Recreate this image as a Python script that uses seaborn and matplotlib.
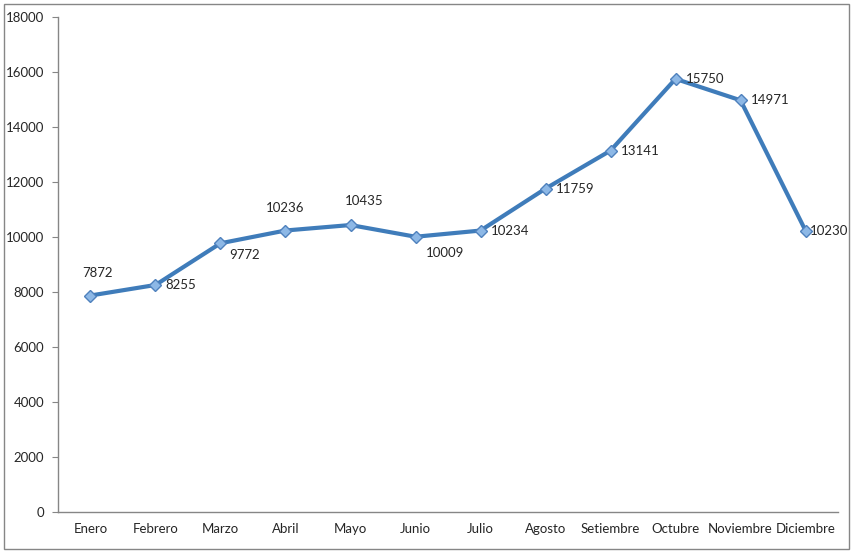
import numpy as np
import matplotlib as mpl
mpl.use("Agg")
import matplotlib.pyplot as plt
import pandas as pd
import seaborn as sns
from matplotlib.patches import Rectangle

sns.set_style("white")
plt.rcParams['font.family'] = ['Lato', 'DejaVu Sans']

meses = ['Enero', 'Febrero', 'Marzo', 'Abril', 'Mayo', 'Junio', 'Julio',
         'Agosto', 'Setiembre', 'Octubre', 'Noviembre', 'Diciembre']
valores = [7872, 8255, 9772, 10236, 10435, 10009, 10234,
           11759, 13141, 15750, 14971, 10230]

dat = pd.DataFrame({'mes': meses, 'valor': valores})

# desplazamiento de etiquetas (pixeles) y alineacion, como en Excel
offs = [(7, 17, 'center', 'bottom'), (10, 0, 'left', 'center'),
        (9, -12, 'left', 'center'), (0, 17, 'center', 'bottom'),
        (14, 18, 'center', 'bottom'), (10, -16, 'left', 'center'),
        (10, 0, 'left', 'center'), (10, 0, 'left', 'center'),
        (10, 0, 'left', 'center'), (10, 0, 'left', 'center'),
        (10, 0, 'left', 'center'), (4, 0, 'left', 'center')]

fig = plt.figure(figsize=(8.54, 5.52), dpi=100)
ax = fig.add_axes([0.0679, 0.0725, 0.9134, 0.8967])

sns.lineplot(x='mes', y='valor', data=dat, sort=False, ax=ax,
             color='#3F7CBA', linewidth=3, marker='D', markersize=6,
             markerfacecolor='#8DB8E6', markeredgecolor='#4F81BD',
             markeredgewidth=1)

for i, v in enumerate(valores):
    dx, dy, ha, va = offs[i]
    ax.annotate(str(v), (i, v), xytext=(dx * 0.72, dy * 0.72),
                textcoords='offset points', ha=ha, va=va, fontsize=9.5)

ax.set_ylim(0, 18000)
ax.set_yticks(np.arange(0, 18001, 2000))
ax.set_xlim(-0.5, 11.5)
ax.set_xticks(range(12))
ax.set_xticks(np.arange(-0.5, 12, 1), minor=True)
ax.set_xlabel('')
ax.set_ylabel('')

for s in ['top', 'right']:
    ax.spines[s].set_visible(False)
for s in ['left', 'bottom']:
    ax.spines[s].set_color('#868686')
    ax.spines[s].set_linewidth(1)

ax.tick_params(axis='x', which='major', length=0, pad=8, labelsize=9.5)
ax.tick_params(axis='x', which='minor', length=4, color='#868686', direction='out')
ax.tick_params(axis='y', length=4, color='#868686', direction='out',
               pad=6, labelsize=9.5, left=True)

fig.patches.append(Rectangle((4 / 854, 3 / 552), 845 / 854, 545 / 552,
                             transform=fig.transFigure, fill=False,
                             edgecolor='#868686', linewidth=1))

fig.savefig('out.png', dpi=100)
